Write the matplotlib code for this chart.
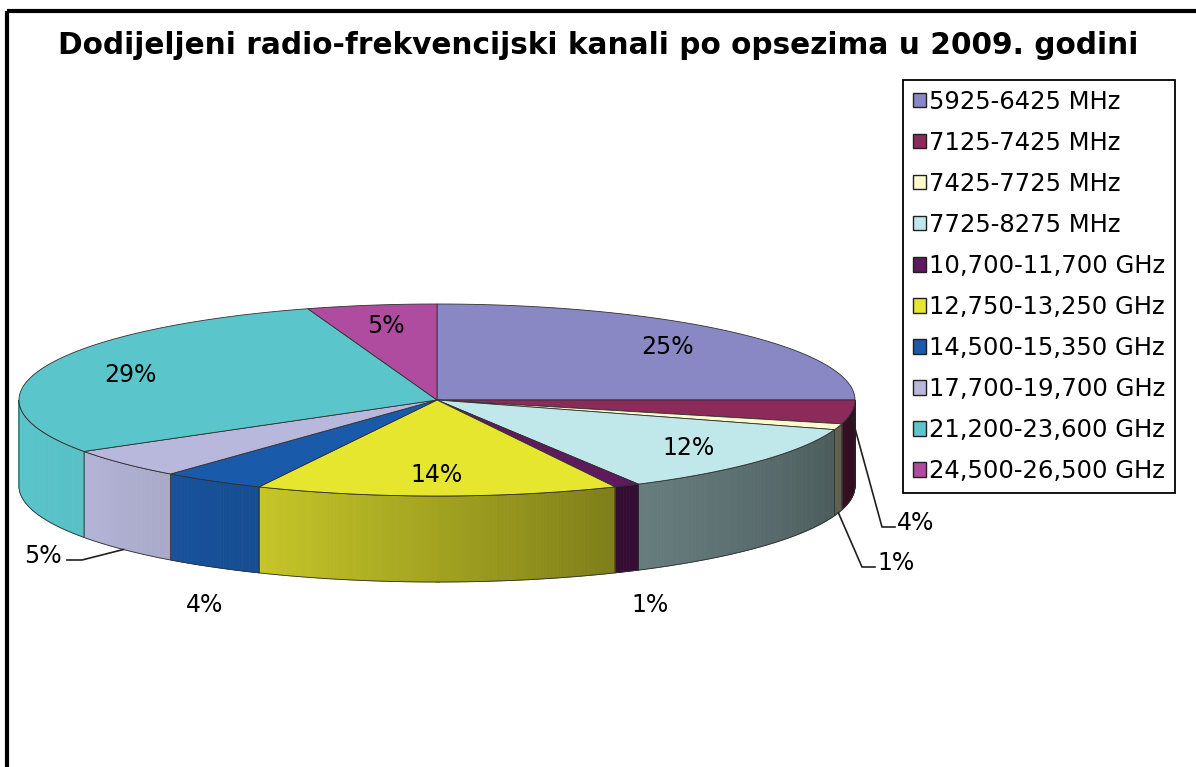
import matplotlib
matplotlib.use("Agg")
import matplotlib.pyplot as plt
import numpy as np
from matplotlib.colors import to_rgb
from matplotlib.patches import Patch, Polygon, Rectangle

title = "Dodijeljeni radio-frekvencijski kanali po opsezima u 2009. godini"
bands = [
    "5925-6425 MHz",
    "7125-7425 MHz",
    "7425-7725 MHz",
    "7725-8275 MHz",
    "10,700-11,700 GHz",
    "12,750-13,250 GHz",
    "14,500-15,350 GHz",
    "17,700-19,700 GHz",
    "21,200-23,600 GHz",
    "24,500-26,500 GHz",
]
shares = [25, 4, 1, 12, 1, 14, 4, 5, 29, 5]
colors = ["#8a88c4", "#8c2a5a", "#fafacc", "#c0e8ea", "#5e1a5c",
          "#e6e62e", "#1a5aaa", "#b8b8dc", "#5ac6cc", "#b04ca0"]

# labels placed outside the pie: index -> (x, y, ha, leader line?)
outside = {
    1: (897, 523, "left", True),
    2: (877, 563, "left", True),
    4: (650, 605, "center", False),
    6: (205, 605, "center", False),
    7: (62, 556, "right", True),
}
# where the leader line starts on the wall (0 = top rim, 1 = bottom rim)
leader_depth = {1: 0.05, 2: 1.0, 7: 1.0}

# pie geometry in pixels
cx, cy = 437, 400
rx, ry = 418, 96
depth = 86
edge = "#303030"


def px(a):
    return cx + rx * np.sin(np.radians(a))


def py(a):
    return cy - ry * np.cos(np.radians(a))


def shade(a):
    # darker on the right side of the wall, lighter on the left
    return np.interp(a, [90, 155, 205, 235, 270], [0.33, 0.55, 0.86, 0.97, 1.0])


fig = plt.figure(figsize=(11.96, 7.67), dpi=100)
ax = fig.add_axes([0, 0, 1, 1])
ax.set_xlim(0, 1196)
ax.set_ylim(767, 0)
ax.axis("off")

# outer frame (only left and top edges are inside the picture)
ax.add_patch(Rectangle((7, 11), 1300, 900, fill=False, lw=3, ec="black"))

bounds = np.concatenate([[0], np.cumsum(shares)]) / sum(shares) * 360
starts, ends = bounds[:-1], bounds[1:]

# side walls
for i in range(len(shares)):
    lo, hi = max(starts[i], 90), min(ends[i], 270)
    if hi <= lo:
        continue
    grid = np.linspace(lo, hi, int((hi - lo) * 2) + 2)
    base = np.array(to_rgb(colors[i]))
    for a0, a1 in zip(grid[:-1], grid[1:]):
        c = np.clip(base * shade((a0 + a1) / 2), 0, 1)
        pts = [(px(a0), py(a0)), (px(a1), py(a1)),
               (px(a1), py(a1) + depth), (px(a0), py(a0) + depth)]
        ax.add_patch(Polygon(pts, closed=True, fc=c, ec=c, lw=0.6))
    top = np.column_stack([px(grid), py(grid)])
    bot = np.column_stack([px(grid[::-1]), py(grid[::-1]) + depth])
    ax.add_patch(Polygon(np.vstack([top, bot]), closed=True, fill=False, ec=edge, lw=0.6))

# top faces
for i in range(len(shares)):
    a = np.linspace(starts[i], ends[i], max(3, int((ends[i] - starts[i]) * 2)))
    pts = np.vstack([[cx, cy], np.column_stack([px(a), py(a)])])
    ax.add_patch(Polygon(pts, closed=True, fc=colors[i], ec=edge, lw=0.6))

# percentage labels
for i, v in enumerate(shares):
    mid = (starts[i] + ends[i]) / 2
    if i in outside:
        tx, ty, ha, lead = outside[i]
        ax.text(tx, ty, f"{v}%", fontsize=17, ha=ha, va="center", color="black")
        if lead:
            ax0 = px(mid)
            ay0 = py(mid) + depth * leader_depth[i]
            ly = ty + 4
            if ha == "left":
                xs = [ax0, tx - 15, tx - 2]
            else:
                xs = [ax0, tx + 20, tx + 5]
            ax.plot(xs, [ay0, ly, ly], color="#202020", lw=1.2)
    else:
        r = 0.78
        ax.text(cx + r * rx * np.sin(np.radians(mid)), cy - r * ry * np.cos(np.radians(mid)),
                f"{v}%", fontsize=17, ha="center", va="center", color="black")

fig.text(0.5, 1 - 45 / 767, title, fontsize=21.3, fontweight="bold",
         ha="center", va="center")

handles = [Patch(facecolor=c, edgecolor="#202020", lw=1.0) for c in colors]
leg = fig.legend(handles, bands, loc="upper left",
                 bbox_to_anchor=(903 / 1196, 1 - 80 / 767),
                 fontsize=17.5, frameon=True, fancybox=False, framealpha=1,
                 edgecolor="black", handlelength=0.55, handleheight=0.55,
                 handletextpad=0.12, labelspacing=0.7, borderpad=0.4,
                 borderaxespad=0)
leg.get_frame().set_linewidth(1.3)

fig.savefig("out.png", dpi=100)
